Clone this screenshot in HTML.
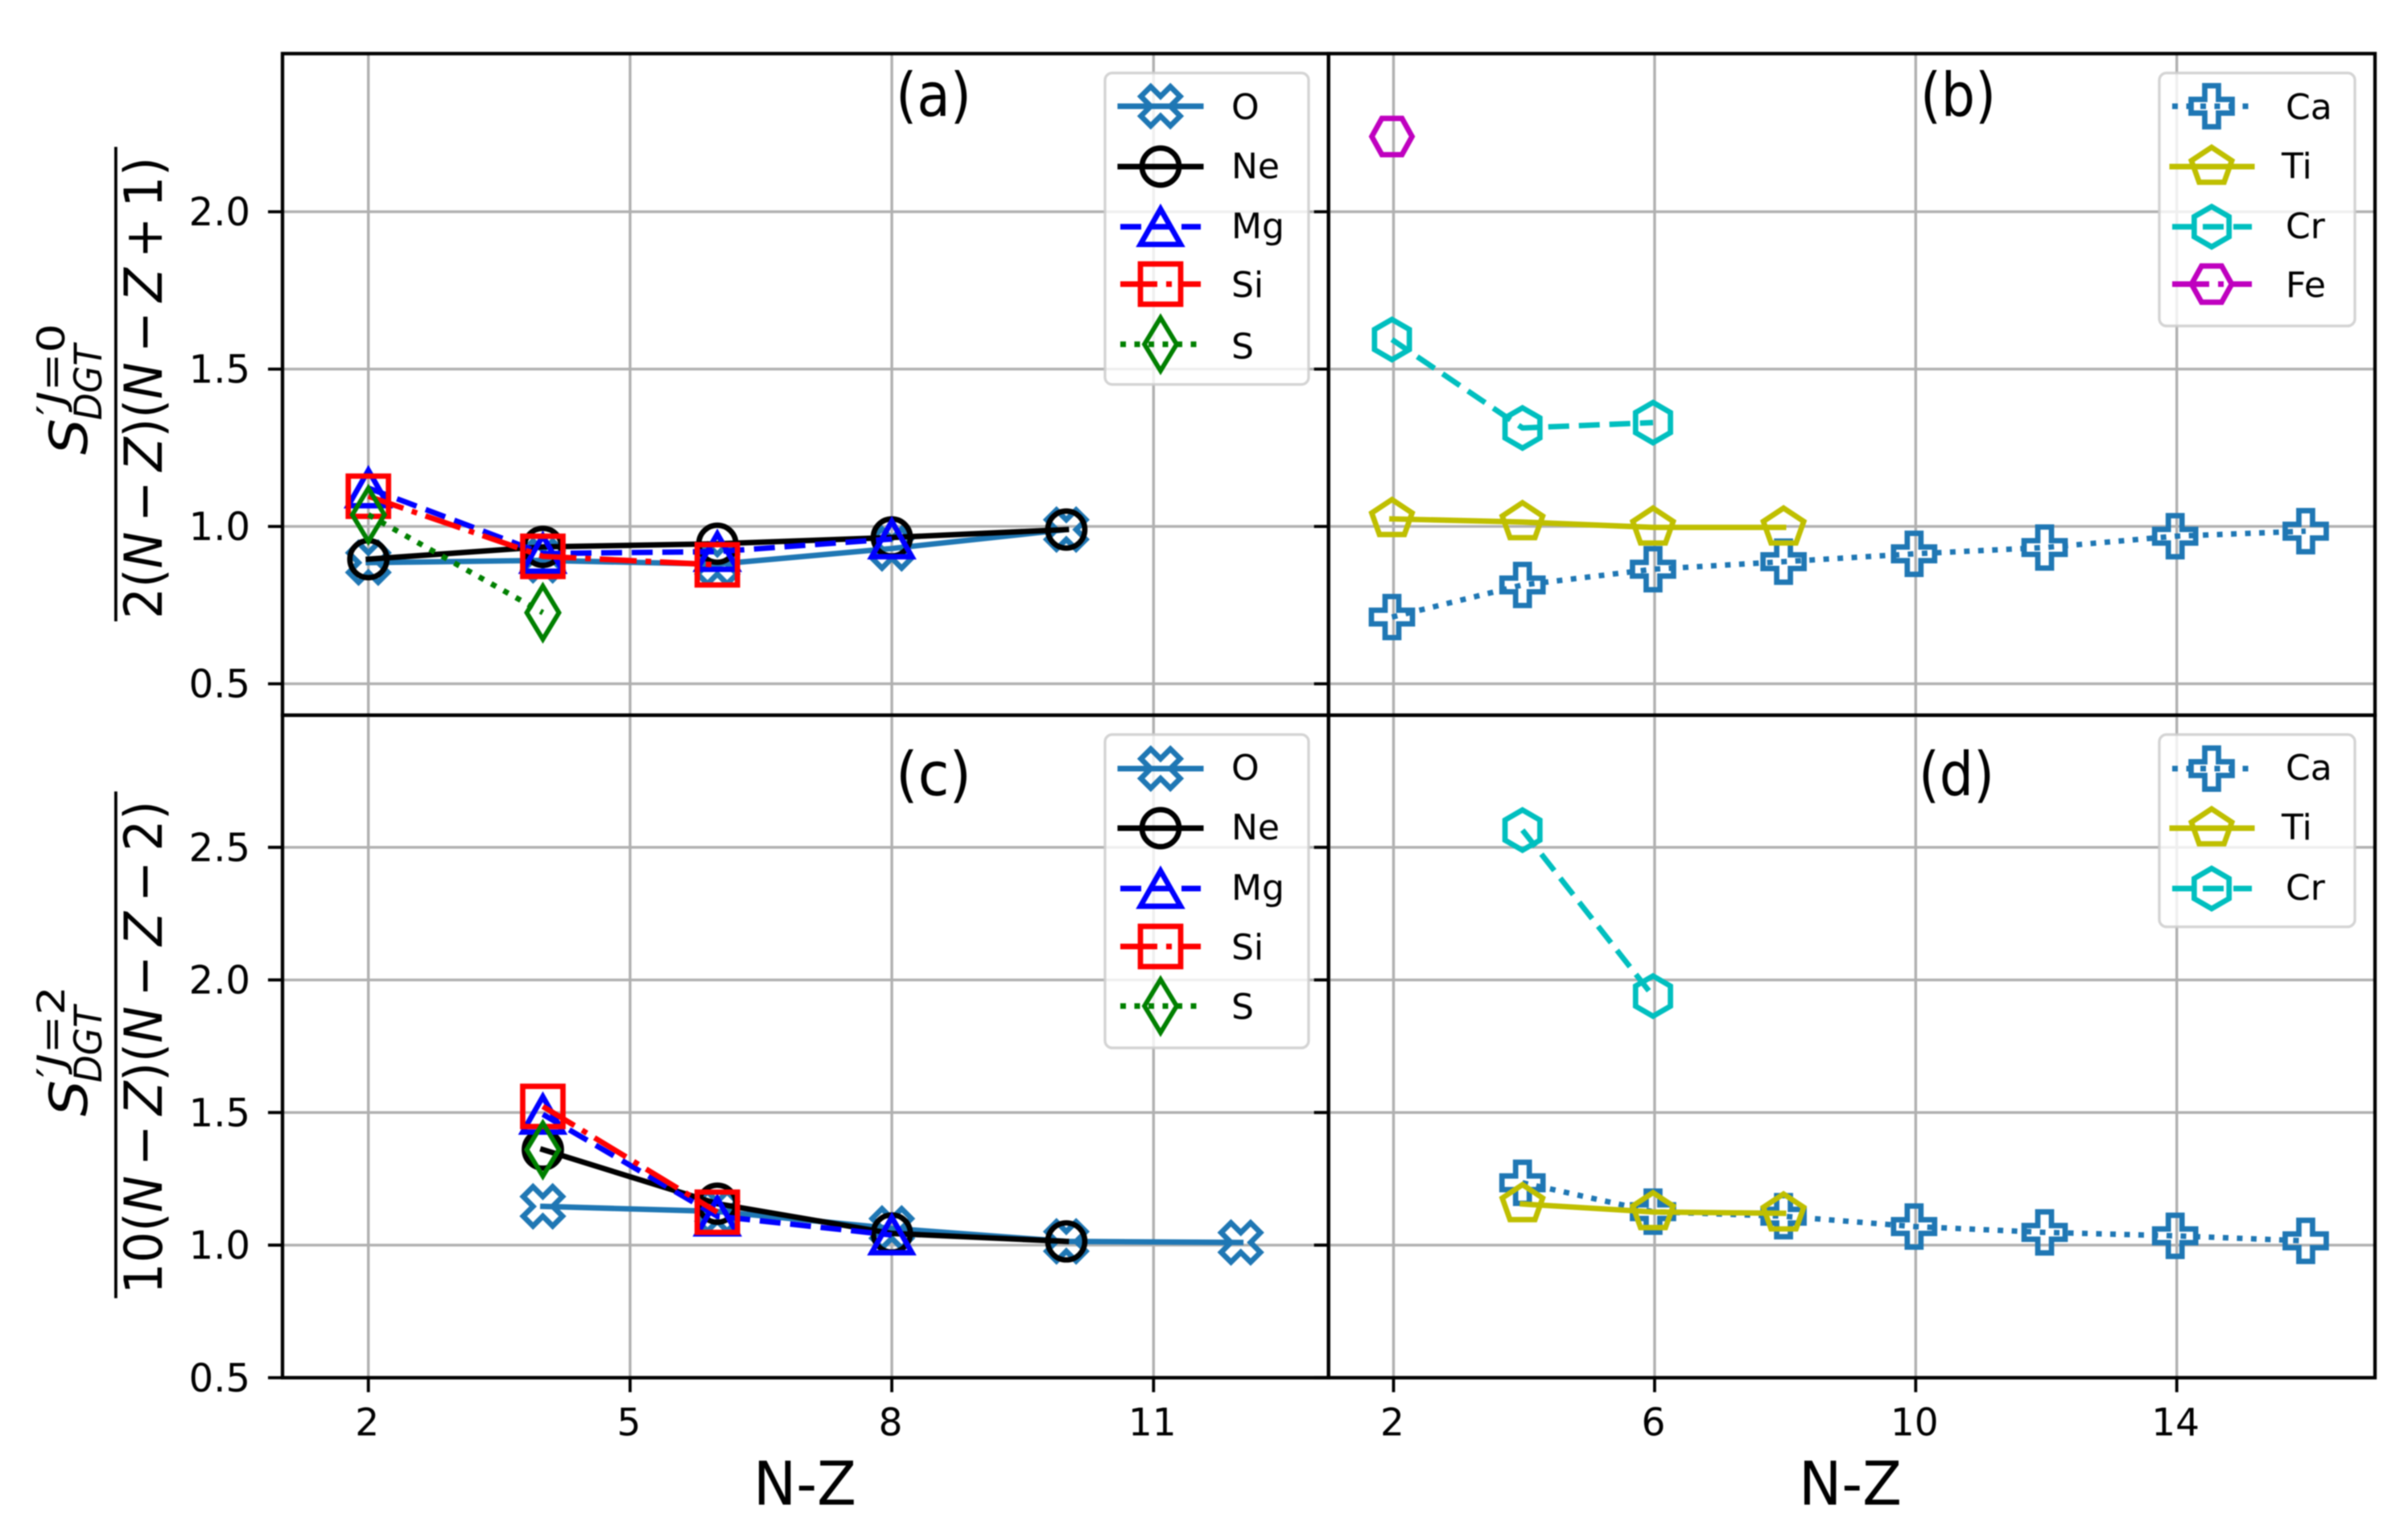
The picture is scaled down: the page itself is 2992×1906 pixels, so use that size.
<!DOCTYPE html>
<html lang="en">
<head>
<meta charset="utf-8">
<title>S DGT sum rule ratios vs N-Z</title>
<style>
html,body{margin:0;padding:0;background:#fff;width:2992px;height:1906px;overflow:hidden}
svg{display:block;filter:blur(0.9px)}
text{font-family:"DejaVu Sans","Liberation Sans",sans-serif;fill:#000}
.it{font-style:italic}
</style>
</head>
<body>
<svg id="chart" xmlns="http://www.w3.org/2000/svg" width="2992" height="1906" viewBox="0 0 2992 1906">
<rect x="0" y="0" width="2992" height="1906" fill="#fff"/>
<g id="plots"></g>
<g>
<rect x="142" y="182.5" width="3.8" height="589.5" fill="#000"/>
<text transform="translate(108,565) rotate(-90)" font-size="65" class="it" textLength="45" lengthAdjust="spacingAndGlyphs">S</text>
<text transform="translate(80,516) rotate(-90)" font-size="47" textLength="114" lengthAdjust="spacingAndGlyphs">′<tspan class="it">J</tspan>=0</text>
<text transform="translate(126,522) rotate(-90)" font-size="47" class="it" textLength="94" lengthAdjust="spacingAndGlyphs">DGT</text>
<text transform="translate(201,769) rotate(-90)" font-size="65" textLength="574" lengthAdjust="spacingAndGlyphs">2(<tspan class="it">N</tspan>&#8201;−&#8201;<tspan class="it">Z</tspan>)(<tspan class="it">N</tspan>&#8201;−&#8201;<tspan class="it">Z</tspan>&#8201;+&#8201;1)</text>
</g>
<g>
<rect x="142" y="983.4" width="3.8" height="629.6" fill="#000"/>
<text transform="translate(108,1387) rotate(-90)" font-size="65" class="it" textLength="45" lengthAdjust="spacingAndGlyphs">S</text>
<text transform="translate(80,1339) rotate(-90)" font-size="47" textLength="114" lengthAdjust="spacingAndGlyphs">′<tspan class="it">J</tspan>=2</text>
<text transform="translate(126,1345) rotate(-90)" font-size="47" class="it" textLength="95" lengthAdjust="spacingAndGlyphs">DGT</text>
<text transform="translate(201,1608) rotate(-90)" font-size="65" textLength="613" lengthAdjust="spacingAndGlyphs">10(<tspan class="it">N</tspan>&#8201;−&#8201;<tspan class="it">Z</tspan>)(<tspan class="it">N</tspan>&#8201;−&#8201;<tspan class="it">Z</tspan>&#8201;−&#8201;2)</text>
</g>
<text x="936" y="1869.5" font-size="75" textLength="128" lengthAdjust="spacingAndGlyphs">N-Z</text>
<text x="2235" y="1869.5" font-size="75" textLength="128" lengthAdjust="spacingAndGlyphs">N-Z</text>
</svg>
<script>
// ---- chart data ----
const xTicksLeft = [2, 5, 8, 11];
const xTicksRight = [2, 6, 10, 14];
const yTicksTop = [0.5, 1.0, 1.5, 2.0];
const yTicksBottom = [0.5, 1.0, 1.5, 2.0, 2.5];

const aOx = [2, 4, 6, 8, 10];
const aOy = [0.885, 0.892, 0.88, 0.93, 0.99];
const aNex = [2, 4, 6, 8, 10];
const aNey = [0.896, 0.935, 0.945, 0.965, 0.99];
const aMgx = [2, 4, 6, 8];
const aMgy = [1.122, 0.914, 0.92, 0.96];
const aSix = [2, 4, 6];
const aSiy = [1.096, 0.905, 0.878];
const aSx = [2, 4];
const aSy = [1.037, 0.726];

const bCax = [2, 4, 6, 8, 10, 12, 14, 16];
const bCay = [0.712, 0.814, 0.864, 0.888, 0.913, 0.933, 0.969, 0.985];
const bTix = [2, 4, 6, 8];
const bTiy = [1.024, 1.014, 0.997, 0.997];
const bCrx = [2, 4, 6];
const bCry = [1.594, 1.313, 1.33];
const bFex = [2];
const bFey = [2.239];

const cOx = [4, 6, 8, 10, 12];
const cOy = [1.146, 1.127, 1.063, 1.014, 1.01];
const cNex = [4, 6, 8, 10];
const cNey = [1.36, 1.156, 1.044, 1.014];
const cMgx = [4, 6, 8];
const cMgy = [1.493, 1.109, 1.038];
const cSix = [4, 6];
const cSiy = [1.523, 1.124];
const cSx = [4];
const cSy = [1.36];

const dCax = [4, 6, 8, 10, 12, 14, 16];
const dCay = [1.235, 1.126, 1.109, 1.07, 1.048, 1.035, 1.016];
const dTix = [4, 6, 8];
const dTiy = [1.155, 1.125, 1.12];
const dCrx = [4, 6];
const dCry = [2.565, 1.939];

// ---- axis functions ----
const xLeft = v => 457.7 + 108.4 * (v - 2);
const xRight = v => 1729.5 + 81.1 * (v - 2);
const yTop = v => 849.6 - (v - 0.5) * 391;
const yBottom = v => 1711.8 - (v - 0.5) * 329.5;

const styles = {
  O:  {color: '#1f77b4', dash: null, marker: 'X'},
  Ne: {color: '#000000', dash: null, marker: 'o'},
  Mg: {color: '#0000ff', dash: '26 12', marker: '^'},
  Si: {color: '#ff0000', dash: '46 11 7 11', marker: 's'},
  S:  {color: '#008000', dash: '7 10.5', marker: 'd'},
  Ca: {color: '#1f77b4', dash: '7 10.5', marker: 'P'},
  Ti: {color: '#bfbf00', dash: null, marker: 'p'},
  Cr: {color: '#00bfbf', dash: '26 12', marker: 'h'},
  Fe: {color: '#bf00bf', dash: '46 11 7 11', marker: 'H'}
};

const SVGNS = 'http://www.w3.org/2000/svg';
const plots = document.getElementById('plots');

function mk(tag, parent, attrs) {
  const n = document.createElementNS(SVGNS, tag);
  for (const k in attrs) n.setAttribute(k, attrs[k]);
  parent.appendChild(n);
  return n;
}

function poly(pts, cx, cy, u) {
  return 'M' + pts.map(p => (cx + p[0] * u).toFixed(2) + ' ' + (cy + p[1] * u).toFixed(2)).join('L') + 'Z';
}

function regular(n, startDeg, cx, cy, rx, ry) {
  const pts = [];
  for (let i = 0; i < n; i++) {
    const a = (startDeg + i * 360 / n) * Math.PI / 180;
    pts.push([Math.cos(a) * rx, Math.sin(a) * ry]);
  }
  return poly(pts, cx, cy, 1);
}

const xShape = [[-1,-2],[0,-1],[1,-2],[2,-1],[1,0],[2,1],[1,2],[0,1],[-1,2],[-2,1],[-1,0],[-2,-1]];
const plusShape = [[-1,-3],[1,-3],[1,-1],[3,-1],[3,1],[1,1],[1,3],[-1,3],[-1,1],[-3,1],[-3,-1],[-1,-1]];

function markerPath(type, cx, cy) {
  switch (type) {
    case 'X': return poly(xShape, cx, cy, 12.2);
    case 'P': return poly(plusShape, cx, cy, 8.5);
    case 'o': return 'M' + (cx - 23) + ' ' + cy + 'a23 23 0 1 0 46 0a23 23 0 1 0 -46 0Z';
    case '^': return 'M' + cx + ' ' + (cy - 22) + 'L' + (cx + 25) + ' ' + (cy + 22) + 'L' + (cx - 25) + ' ' + (cy + 22) + 'Z';
    case 's': return poly([[-1,-1],[1,-1],[1,1],[-1,1]], cx, cy, 25);
    case 'd': return poly([[0,-33],[20,0],[0,33],[-20,0]], cx, cy, 1);
    case 'p': return regular(5, -90, cx, cy, 26.4, 24);
    case 'h': return regular(6, -90, cx, cy, 25, 25);
    case 'H': return regular(6, 0, cx, cy, 25, 26);
  }
}

function drawMarker(parent, type, color, cx, cy) {
  const width = type === 'd' ? 5.8 : 6.7;
  return mk('path', parent, {d: markerPath(type, cx, cy), fill: 'none', stroke: color, 'stroke-width': width, 'stroke-linejoin': 'miter', 'stroke-miterlimit': 10});
}

function drawPanel(p) {
  const g = mk('g', plots, {});
  
  

  // grid
  p.xTicks.forEach(t => {
    const x = p.xf(t) + p.nudge;
    const line = mk('line', g, {x1: x, x2: x, y1: p.top, y2: p.bottom, stroke: '#b0b0b0', 'stroke-width': 3.4});
    
    
  });
  p.yTicks.forEach(t => {
    const y = p.yf(t);
    const line = mk('line', g, {x1: p.left, x2: p.right, y1: y, y2: y, stroke: '#b0b0b0', 'stroke-width': 3.4});
    
    
  });

  // series
  p.series.forEach(s => {
    const st = styles[s.name];
    const sg = mk('g', g, {});
    
    
    if (s.xs.length > 1) {
      const pts = s.xs.map((v, i) => p.xf(v).toFixed(2) + ',' + p.yf(s.ys[i]).toFixed(2)).join(' ');
      const attrs = {points: pts, fill: 'none', stroke: st.color, 'stroke-width': 6.8, 'stroke-linejoin': 'round', 'stroke-linecap': st.dash ? 'butt' : 'square'};
      if (st.dash) attrs['stroke-dasharray'] = st.dash;
      const ln = mk('polyline', sg, attrs);
      
      
    }
    s.xs.forEach((v, i) => {
      const m = drawMarker(sg, st.marker, st.color, p.xf(v), p.yf(s.ys[i]));
      
      
    });
  });

  // legend
  const lg = mk('g', g, {});
  
  
  const frame = mk('rect', lg, {x: p.legend.x, y: p.legend.y, width: p.legend.w, height: p.legend.h, rx: 9, ry: 9, fill: 'rgba(255,255,255,0.8)', stroke: 'rgba(204,204,204,0.85)', 'stroke-width': 3.4});
  
  
  p.series.forEach((s, i) => {
    const st = styles[s.name];
    const y = p.legend.rows[i];
    const entry = mk('g', lg, {});
    
    
    const attrs = {x1: p.legend.x1, x2: p.legend.x2, y1: y, y2: y, stroke: st.color, 'stroke-width': 7, 'stroke-linecap': st.dash ? 'butt' : 'square'};
    if (st.dash) attrs['stroke-dasharray'] = st.dash;
    mk('line', entry, attrs);
    drawMarker(entry, st.marker, st.color, p.legend.mx, y);
    const tx = mk('text', entry, {x: p.legend.tx - (s.name === 'Ti' ? 5 : 0), y: p.legend.textRows[i] + 16, 'font-size': 44});
    tx.textContent = s.name;
  });

  // panel letter
  const letter = mk('text', g, {x: p.letterX - 47, y: p.letterY, 'font-size': 75, textLength: 94, lengthAdjust: 'spacingAndGlyphs'});
  letter.textContent = '(' + p.id + ')';
  
  

  // y ticks (marks on every panel, labels on the left column)
  p.yTicks.forEach(t => {
    const y = p.yf(t);
    const tick = mk('line', g, {x1: p.left - 18, x2: p.left, y1: y, y2: y, stroke: '#000', 'stroke-width': 3.8});
    
    
    if (p.yLabels) {
      const lab = mk('text', g, {x: 311, y: y + 17, 'font-size': 48, 'text-anchor': 'end'});
      lab.textContent = t.toFixed(1);
      
      
    }
  });

  // x ticks on the bottom row
  if (p.xLabels) {
    p.xTicks.forEach(t => {
      const x = p.xf(t) + p.nudge;
      const tick = mk('line', g, {x1: x, x2: x, y1: p.bottom, y2: p.bottom + 18, stroke: '#000', 'stroke-width': 3.8});
      
      
      const lab = mk('text', g, {x: x - 1.5, y: 1783.5, 'font-size': 47, 'text-anchor': 'middle'});
      lab.textContent = t;
      
      
    });
  }

  // spines
  const spine = mk('rect', g, {x: p.left, y: p.top, width: p.right - p.left, height: p.bottom - p.top, fill: 'none', stroke: '#000', 'stroke-width': 4.3});
  
  
}

const legendAB = {x1: 1392, x2: 1492, mx: 1442, tx: 1530, x: 1373, w: 253};
const legendRight = {x1: 2699, x2: 2798, mx: 2748, tx: 2840, x: 2683, w: 243};

drawPanel({
  id: 'a', left: 351, right: 1650.7, top: 66.6, bottom: 888.6, xf: xLeft, yf: yTop, nudge: 0,
  xTicks: xTicksLeft, yTicks: yTicksTop, yLabels: true, xLabels: false, letterX: 1160, letterY: 144,
  series: [
    {name: 'O', xs: aOx, ys: aOy}, {name: 'Ne', xs: aNex, ys: aNey}, {name: 'Mg', xs: aMgx, ys: aMgy},
    {name: 'Si', xs: aSix, ys: aSiy}, {name: 'S', xs: aSx, ys: aSy}
  ],
  legend: Object.assign({}, legendAB, {y: 90.7, h: 387, rows: [132, 207, 281.7, 353, 427.7], textRows: [132, 205.5, 280, 353, 429.5]})
});
drawPanel({
  id: 'b', left: 1650.7, right: 2951, top: 66.6, bottom: 888.6, xf: xRight, yf: yTop, nudge: 2,
  xTicks: xTicksRight, yTicks: yTicksTop, yLabels: false, xLabels: false, letterX: 2433, letterY: 144,
  series: [
    {name: 'Ca', xs: bCax, ys: bCay}, {name: 'Ti', xs: bTix, ys: bTiy},
    {name: 'Cr', xs: bCrx, ys: bCry}, {name: 'Fe', xs: bFex, ys: bFey}
  ],
  legend: Object.assign({}, legendRight, {y: 90.7, h: 314.3, rows: [132, 207, 281.7, 353], textRows: [132, 205.5, 280, 353]})
});
drawPanel({
  id: 'c', left: 351, right: 1650.7, top: 888.6, bottom: 1711.8, xf: xLeft, yf: yBottom, nudge: 0,
  xTicks: xTicksLeft, yTicks: yTicksBottom, yLabels: true, xLabels: true, letterX: 1160, letterY: 988,
  series: [
    {name: 'O', xs: cOx, ys: cOy}, {name: 'Ne', xs: cNex, ys: cNey}, {name: 'Mg', xs: cMgx, ys: cMgy},
    {name: 'Si', xs: cSix, ys: cSiy}, {name: 'S', xs: cSx, ys: cSy}
  ],
  legend: Object.assign({}, legendAB, {y: 912.7, h: 389.3, rows: [955, 1029, 1104, 1176, 1250], textRows: [953, 1027, 1102, 1176, 1250]})
});
drawPanel({
  id: 'd', left: 1650.7, right: 2951, top: 888.6, bottom: 1711.8, xf: xRight, yf: yBottom, nudge: 2,
  xTicks: xTicksRight, yTicks: yTicksBottom, yLabels: false, xLabels: true, letterX: 2431, letterY: 988,
  series: [
    {name: 'Ca', xs: dCax, ys: dCay}, {name: 'Ti', xs: dTix, ys: dTiy}, {name: 'Cr', xs: dCrx, ys: dCry}
  ],
  legend: Object.assign({}, legendRight, {y: 912.7, h: 238.9, rows: [955, 1029, 1104], textRows: [953, 1027, 1102]})
});
</script>
</body>
</html>
